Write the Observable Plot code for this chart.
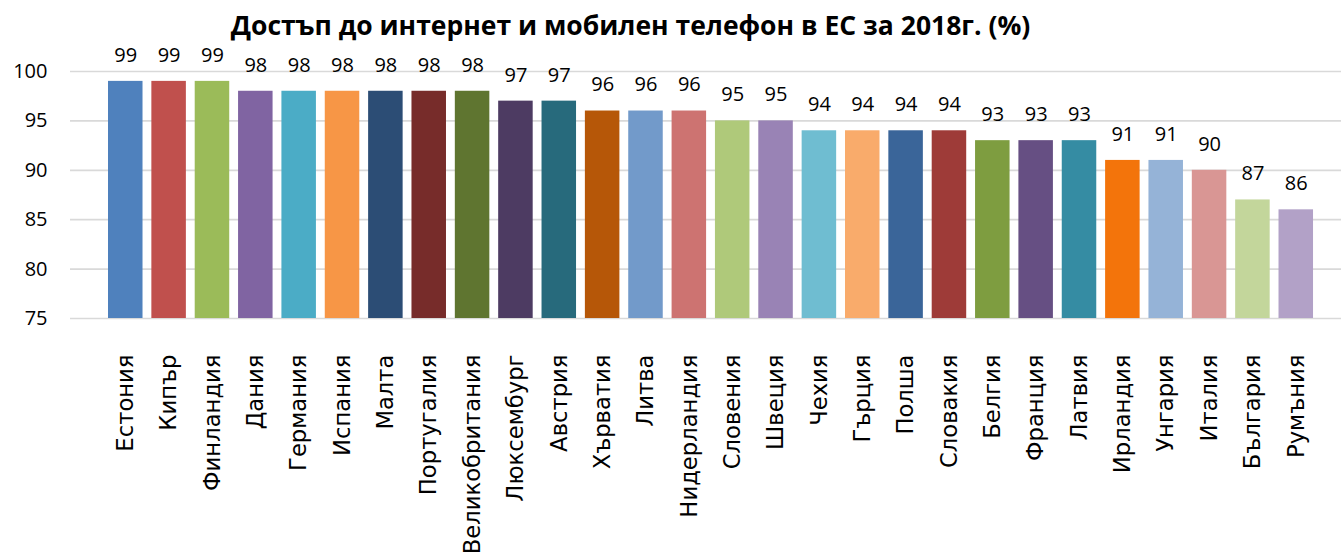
<!DOCTYPE html>
<html>
<head>
<meta charset="utf-8">
<script src="https://cdn.jsdelivr.net/npm/d3@7"></script>
<script src="https://cdn.jsdelivr.net/npm/@observablehq/plot@0.6"></script>
<style>
  html, body { margin: 0; padding: 0; background: #fff; }
  #title { height: 40px; width: 1341px; box-sizing: border-box; text-align: center;
    font-family: "Open Sans", sans-serif; font-weight: 700; font-size: 26.5px; line-height: 26px; color: #000;
    padding-top: 12px; padding-right: 80px; white-space: nowrap; }
  #chart svg { display: block; }
</style>
</head>
<body>
<div id="title">Достъп до интернет и мобилен телефон в ЕС за 2018г. (%)</div>
<div id="chart"></div>
<script>
const countries = ["Естония","Кипър","Финландия","Дания","Германия","Испания","Малта","Португалия","Великобритания","Люксембург","Австрия","Хърватия","Литва","Нидерландия","Словения","Швеция","Чехия","Гърция","Полша","Словакия","Белгия","Франция","Латвия","Ирландия","Унгария","Италия","България","Румъния"];
const values = [99,99,99,98,98,98,98,98,98,97,97,96,96,96,95,95,94,94,94,94,93,93,93,91,91,90,87,86];
const colors = ["#4F81BD","#C0504D","#9BBB59","#8064A2","#4BACC6","#F79646","#2C4D75","#772C2A","#5F7530","#4D3B62","#276A7C","#B65708","#729ACA","#CD7371","#AFC97A","#9983B5","#6FBDD1","#F9AB6B","#3A6599","#9E3B38","#7E9D40","#664F83","#358CA3","#F3740B","#95B3D7","#D99694","#C3D69B","#B2A1C7"];
const yTicks = [75, 80, 85, 90, 95, 100];

const data = countries.map((c, i) => ({country: c, value: values[i], color: colors[i]}));

const chart = Plot.plot({
  width: 1341,
  height: 515,
  marginTop: 31,
  marginBottom: 237,
  marginLeft: 70,
  marginRight: 0,
  style: {fontFamily: "Open Sans", fontSize: "20px", color: "#000", background: "#fff", overflow: "visible"},
  x: {domain: countries, paddingInner: 0.204, paddingOuter: 0.761, align: 0.576, round: false, label: null},
  y: {domain: [yTicks[0], yTicks[yTicks.length - 1]], label: null},
  color: {type: "identity"},
  marks: [
    Plot.gridY(yTicks, {stroke: "#d9d9d9", strokeOpacity: 1, strokeWidth: 1.7}),
    Plot.barY(data, {x: "country", y: "value", fill: "color", clip: true}),
    Plot.text(data, {x: "country", y: "value", text: d => String(d.value), dy: -26, fontSize: 20, fill: "#000"}),
    Plot.axisY(yTicks, {tickSize: 0, tickPadding: 23, fontSize: 20, label: null}),
    Plot.axisX({tickSize: 0, tickPadding: 36, tickRotate: -90, fontSize: 22.7, fontFamily: "DejaVu Sans", label: null})
  ]
});
document.getElementById("chart").appendChild(chart);
</script>
</body>
</html>
